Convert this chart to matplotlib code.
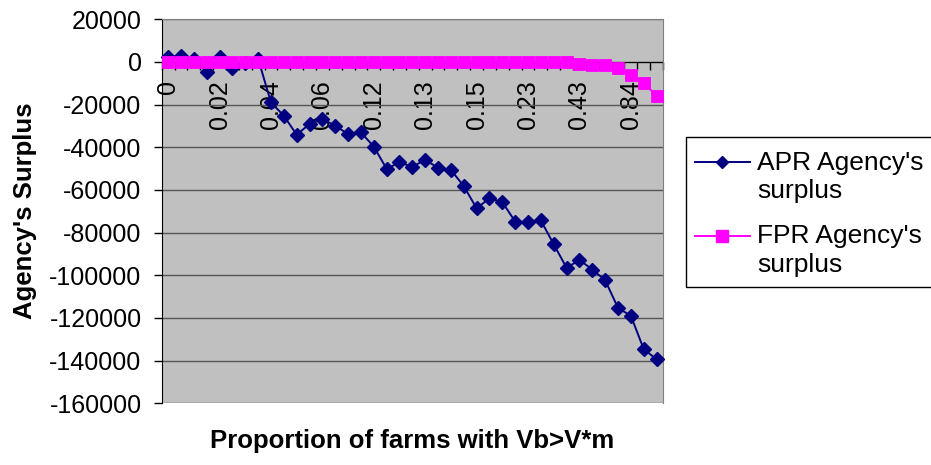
import matplotlib
matplotlib.use("Agg")
import matplotlib.pyplot as plt
from matplotlib.lines import Line2D
from matplotlib.patches import Rectangle
import numpy as np

# Agency's surplus for each category (proportion of farms with Vb>V*m)
apr_surplus = [2100, 3000, 1400, -4500, 2300, -3000, -500, 1600,
               -19000, -25200, -34100, -29100, -26800, -29900, -33800, -33000,
               -39700, -50100, -47100, -49100, -45900, -49600, -50600, -58200,
               -68600, -63900, -65700, -74800, -75100, -74300, -85500, -96500,
               -92800, -97300, -102300, -115300, -119000, -134600, -139400]
fpr_surplus = [0, 0, 0, 0, 0, 0, 0, 0,
               0, 0, 0, 0, 0, 0, 0, 0,
               0, 0, 0, 0, 0, 0, 0, 0,
               0, 0, 0, 0, 0, 0, 0, 0,
               -1000, -1200, -1400, -3000, -6000, -9700, -16000]
tick_labels = ['0', '0.02', '0.04', '0.06', '0.12', '0.13', '0.15', '0.23', '0.43', '0.84']
label_step = 4
series_names = [("APR Agency's", "surplus"), ("FPR Agency's", "surplus")]

W, H = 931, 465
plt.rcParams['font.family'] = ['Liberation Sans', 'DejaVu Sans']

fig = plt.figure(figsize=(W / 100, H / 100), dpi=100)
ax = fig.add_axes([161.7 / W, 1 - 403.3 / H, (663 - 161.7) / W, (403.3 - 19.3) / H])
ax.set_facecolor('#C0C0C0')

x = np.arange(len(apr_surplus))
ax.plot(x, apr_surplus, color='#000080', lw=1.4, marker='D', ms=7.2,
        mfc='#000080', mec='#000080', mew=1, zorder=3, clip_on=False)
ax.plot(x, fpr_surplus, color='#FF00FF', lw=1.4, marker='s', ms=8.8,
        mfc='#FF00FF', mec='#FF00FF', mew=0.6, zorder=4, clip_on=False)

ax.set_xlim(-0.5, len(x) - 0.5)
ax.set_ylim(-160000, 20000)
ax.set_yticks(np.arange(-160000, 20001, 20000))
ax.yaxis.grid(True, color='#555555', lw=1.0)
ax.set_axisbelow(True)

# category axis crosses at zero, ticks between categories
ax.spines['bottom'].set_position(('data', 0))
ax.spines['bottom'].set_color('black')
ax.spines['bottom'].set_zorder(2)
ax.spines['left'].set_color('black')
for s in ('top', 'right'):
    ax.spines[s].set_color('#808080')
ax.set_xticks(np.arange(len(x) + 1) - 0.5)
ax.set_xticklabels([])
ax.set_xticks(x[::label_step], tick_labels, minor=True)
ax.tick_params(axis='x', which='major', direction='out', length=6, width=1, color='black')
ax.tick_params(axis='x', which='minor', length=0, pad=13, labelsize=18, labelrotation=90)
ax.tick_params(axis='y', direction='out', length=6, width=1, labelsize=18, pad=8.5)
ax.set_yticklabels([f'{int(v)}' for v in ax.get_yticks()])

fig.text(25 / W, 1 - 211 / H, "Agency's Surplus", rotation=90, ha='center', va='center',
         fontsize=18.5, fontweight='bold')
fig.text(412 / W, 1 - 441 / H, 'Proportion of farms with Vb>V*m', ha='center', va='center',
         fontsize=18.5, fontweight='bold')

# legend box (drawn by hand so markers line up with the first text line)
fig.add_artist(Rectangle((686 / W, 1 - 287 / H), (940 - 686) / W, 150 / H,
                         transform=fig.transFigure, fill=False, ec='black', lw=1))
handles = [dict(color='#000080', marker='D', ms=6.2, y=162.3),
           dict(color='#FF00FF', marker='s', ms=8.8, y=236)]
baselines = [(170, 198.3), (243.3, 271.7)]
for h, name, base in zip(handles, series_names, baselines):
    fy = 1 - h['y'] / H
    fig.add_artist(Line2D([695 / W, 750 / W], [fy, fy], transform=fig.transFigure,
                          color=h['color'], lw=1.4))
    fig.add_artist(Line2D([722 / W], [fy], transform=fig.transFigure, color=h['color'],
                          marker=h['marker'], ms=h['ms'], mfc=h['color'], mec=h['color']))
    for line, b in zip(name, base):
        fig.text(757 / W, 1 - b / H, line, ha='left', va='baseline', fontsize=19)

fig.savefig('out.png', dpi=100)
